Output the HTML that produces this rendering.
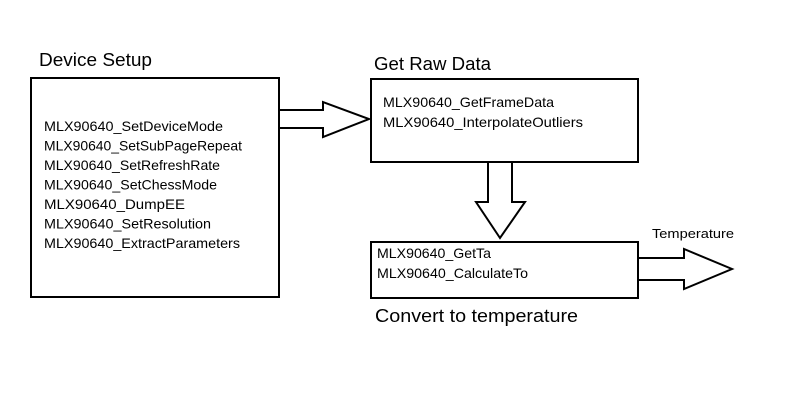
<!DOCTYPE html>
<html><head><meta charset="utf-8"><style>html,body{margin:0;padding:0;background:#fff}svg{display:block}</style></head>
<body>
<svg width="800" height="402" viewBox="0 0 800 402" xmlns="http://www.w3.org/2000/svg" font-family="Liberation Sans, sans-serif" fill="#000">
<rect width="800" height="402" fill="#fff"/>
<g fill="none" stroke="#000" stroke-width="2">
<rect x="31" y="78" width="248" height="219"/>
<rect x="371" y="79" width="267" height="83"/>
<rect x="371" y="242" width="267" height="56"/>
<polygon fill="#fff" points="279,110 323,110 323,102 369,119 323,137 323,128 279,128"/>
<polygon fill="#fff" points="488,162 512,162 512,202 525,202 500,238 476,202 488,202"/>
<polygon fill="#fff" points="638,258 684,258 684,249 732,269 684,289 684,280 638,280"/>
</g>
<g font-size="18">
<text x="39" y="66" textLength="113" lengthAdjust="spacingAndGlyphs">Device Setup</text>
<text x="374" y="70" textLength="117" lengthAdjust="spacingAndGlyphs">Get Raw Data</text>
<text x="375" y="322" textLength="203" lengthAdjust="spacingAndGlyphs">Convert to temperature</text>
</g>
<g font-size="14">
<text x="44" y="131" textLength="179" lengthAdjust="spacingAndGlyphs">MLX90640_SetDeviceMode</text>
<text x="44" y="150.5" textLength="198" lengthAdjust="spacingAndGlyphs">MLX90640_SetSubPageRepeat</text>
<text x="44" y="170" textLength="176" lengthAdjust="spacingAndGlyphs">MLX90640_SetRefreshRate</text>
<text x="44" y="189.5" textLength="173" lengthAdjust="spacingAndGlyphs">MLX90640_SetChessMode</text>
<text x="44" y="209" textLength="141" lengthAdjust="spacingAndGlyphs">MLX90640_DumpEE</text>
<text x="44" y="228.5" textLength="167" lengthAdjust="spacingAndGlyphs">MLX90640_SetResolution</text>
<text x="44" y="248" textLength="196" lengthAdjust="spacingAndGlyphs">MLX90640_ExtractParameters</text>
<text x="383" y="107" textLength="171" lengthAdjust="spacingAndGlyphs">MLX90640_GetFrameData</text>
<text x="383" y="127" textLength="200" lengthAdjust="spacingAndGlyphs">MLX90640_InterpolateOutliers</text>
<text x="377" y="258" textLength="114" lengthAdjust="spacingAndGlyphs">MLX90640_GetTa</text>
<text x="377" y="278" textLength="151" lengthAdjust="spacingAndGlyphs">MLX90640_CalculateTo</text>
<text x="652" y="238" font-size="13" textLength="82" lengthAdjust="spacingAndGlyphs">Temperature</text>
</g>
</svg>
</body></html>
